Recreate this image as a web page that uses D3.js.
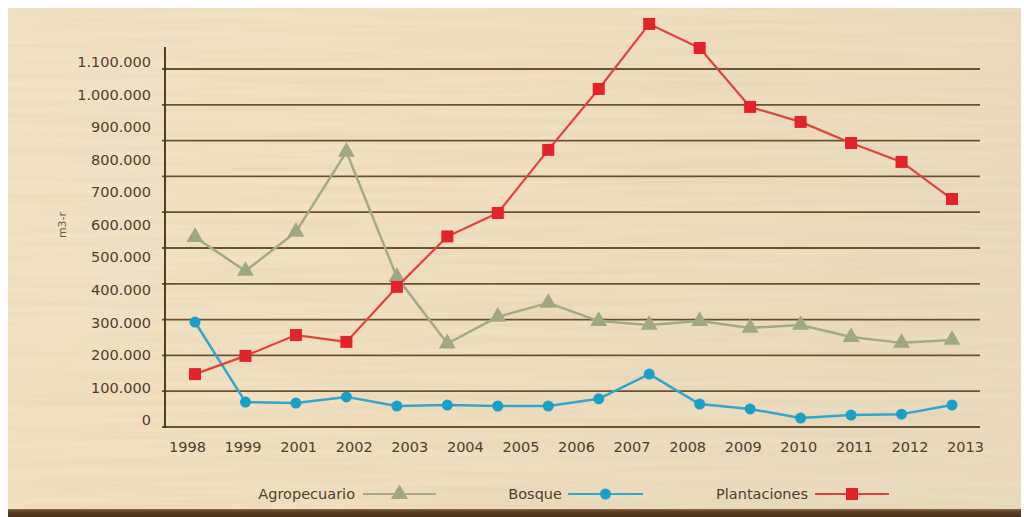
<!DOCTYPE html>
<html>
<head>
<meta charset="utf-8">
<script src="https://cdn.jsdelivr.net/npm/d3@7"></script>
<style>
  html, body { margin: 0; padding: 0; background: #ffffff; }
  svg { display: block; }
  text { font-family: "DejaVu Sans", "Noto Sans", sans-serif; }
</style>
</head>
<body>
<svg id="chart" width="1024" height="517"></svg>
<script>
// Yearly volumes (m3-r) by origin, 1998–2013
const periods = ["1998","1999","2000","2001","2002","2003","2004","2005",
                 "2006","2007","2008","2009","2010","2011","2012","2013"];

const agropecuario = [562000, 458000, 578000, 824000, 439000, 235000, 317000, 360000,
                      304000, 292000, 304000, 283000, 292000, 255000, 237000, 246000];

const bosque = [301000, 55000, 52000, 71000, 43000, 46000, 43000, 43000,
                65000, 141000, 49000, 34000, 6000, 15000, 18000, 46000];

const plantaciones = [141000, 197000, 261000, 240000, 409000, 564000, 636000, 830000,
                      1017000, 1217000, 1143000, 962000, 916000, 851000, 793000, 679000];

// Labels printed under the axis
const yearLabels = ["1998","1999","2001","2002","2003","2004","2005","2006",
                    "2007","2008","2009","2010","2011","2012","2013"];

const yTicks = [0, 100000, 200000, 300000, 400000, 500000, 600000,
                700000, 800000, 900000, 1000000, 1100000];

const gridSteps = d3.range(0, 11);

const seriesNames = ["Agropecuario", "Bosque", "Plantaciones"];

const svg = d3.select("#chart");
const W = 1024, H = 517;

// ---- wood background ----
const defs = svg.append("defs");
const grad = defs.append("linearGradient").attr("id", "woodBase")
  .attr("x1", "0").attr("y1", "0").attr("x2", "1").attr("y2", "0.3");
grad.append("stop").attr("offset", "0").attr("stop-color", "#f3e4c7");
grad.append("stop").attr("offset", "0.5").attr("stop-color", "#f1e0c0");
grad.append("stop").attr("offset", "1").attr("stop-color", "#eadcbf");

const grain = defs.append("filter").attr("id", "grain")
  .attr("x", 0).attr("y", 0).attr("width", "100%").attr("height", "100%");
grain.append("feTurbulence").attr("type", "fractalNoise")
  .attr("baseFrequency", "0.005 0.16").attr("numOctaves", 3).attr("seed", 7).attr("result", "n");
grain.append("feColorMatrix").attr("in", "n").attr("type", "matrix")
  .attr("values", "0 0 0 0 0.66  0 0 0 0 0.52  0 0 0 0 0.32  0.4 0 0 0 -0.12");

svg.append("rect").attr("x", 8).attr("y", 8).attr("width", W - 11).attr("height", H - 8)
  .attr("fill", "url(#woodBase)");
svg.append("rect").attr("x", 8).attr("y", 8).attr("width", W - 11).attr("height", H - 8)
  .attr("fill", "#000").attr("filter", "url(#grain)");

// dark edge along the bottom
const edge = defs.append("linearGradient").attr("id", "edge")
  .attr("x1", 0).attr("y1", 0).attr("x2", 0).attr("y2", 1);
edge.append("stop").attr("offset", 0).attr("stop-color", "#8a6a45");
edge.append("stop").attr("offset", 0.35).attr("stop-color", "#5b3d22");
edge.append("stop").attr("offset", 1).attr("stop-color", "#4a3019");
svg.append("rect").attr("x", 8).attr("y", 509).attr("width", W - 11).attr("height", 8)
  .attr("fill", "url(#edge)");

// ---- scales ----
const x = d3.scalePoint().domain(periods).range([195, 952]);
const y = d3.scaleLinear().domain([0, 1100000]).range([420, 62]);
const xLabel = d3.scalePoint().domain(yearLabels).range([187, 965]);
const grid = d3.scaleLinear().domain([0, 10]).range([427, 69]);

const fmt = d3.formatLocale({ decimal: ",", thousands: ".", grouping: [3], currency: ["", ""] }).format(",");

// ---- grid lines ----
const lineColor = "#5b4523";
svg.append("g").selectAll("line").data(gridSteps).join("line")
  .attr("x1", 162).attr("x2", 980)
  .attr("y1", d => grid(d)).attr("y2", d => grid(d))
  .attr("stroke", lineColor).attr("stroke-width", d => d === 0 ? 2 : 1.8)
  .attr("opacity", 0.9);

svg.append("line").attr("x1", 165).attr("x2", 165).attr("y1", 47).attr("y2", 428)
  .attr("stroke", "#3e2c14").attr("stroke-width", 1.8);

// ---- axes ----
const textColor = "#4f3f2d";
const yAxis = svg.append("g").attr("transform", "translate(151,0)")
  .call(d3.axisLeft(y).tickValues(yTicks).tickFormat(fmt).tickSize(0).tickPadding(0));
yAxis.select(".domain").remove();
yAxis.selectAll("text").attr("fill", textColor).attr("font-size", 14.5)
  .attr("font-family", "DejaVu Sans");

const xAxis = svg.append("g").attr("transform", "translate(0,442)")
  .call(d3.axisBottom(xLabel).tickSize(0).tickPadding(0));
xAxis.select(".domain").remove();
xAxis.selectAll("text").attr("fill", textColor).attr("font-size", 14.5)
  .attr("font-family", "DejaVu Sans");

svg.append("text").attr("transform", "translate(66,225) rotate(-90)")
  .attr("text-anchor", "middle").attr("fill", "#6d5d48").attr("font-size", 11)
  .text("m3-r");

// ---- series ----
const styles = {
  Agropecuario: { values: agropecuario, line: "#a3a98a", fill: "#9fa884", marker: "triangle", width: 2.5 },
  Bosque:       { values: bosque,       line: "#35a6cb", fill: "#1aa0c6", marker: "circle",   width: 2.5 },
  Plantaciones: { values: plantaciones, line: "#e2433d", fill: "#e3232a", marker: "square",   width: 2.2 }
};

const symbolFor = {
  triangle: d3.symbol().type(d3.symbolTriangle).size(125),
  circle:   d3.symbol().type(d3.symbolCircle).size(95),
  square:   d3.symbol().type(d3.symbolSquare).size(144)
};

const lineGen = d3.line().x(d => x(d.period)).y(d => y(d.value));

seriesNames.forEach(name => {
  const s = styles[name];
  const pts = periods.map((p, i) => ({ period: p, value: s.values[i] }));
  const g = svg.append("g");
  g.append("path").datum(pts).attr("d", lineGen)
    .attr("fill", "none").attr("stroke", s.line).attr("stroke-width", s.width)
    .attr("stroke-linejoin", "round");
  g.selectAll("path.mk").data(pts).join("path").attr("class", "mk")
    .attr("transform", d => `translate(${x(d.period)},${y(d.value)})`)
    .attr("d", symbolFor[s.marker]())
    .attr("fill", s.fill);
});

// ---- legend ----
const legendItems = [
  { name: "Agropecuario", tx: 355, lx1: 363, lx2: 436 },
  { name: "Bosque",       tx: 562, lx1: 568, lx2: 643 },
  { name: "Plantaciones", tx: 808, lx1: 815, lx2: 889 }
];
const legend = svg.append("g").attr("transform", "translate(0,494)");
legendItems.forEach(it => {
  const s = styles[it.name];
  legend.append("text").attr("x", it.tx).attr("y", 0).attr("dy", "0.35em")
    .attr("text-anchor", "end").attr("fill", textColor).attr("font-size", 14.5)
    .text(it.name);
  legend.append("line").attr("x1", it.lx1).attr("x2", it.lx2).attr("y1", 0).attr("y2", 0)
    .attr("stroke", s.line).attr("stroke-width", 1.8);
  legend.append("path").attr("transform", `translate(${(it.lx1 + it.lx2) / 2},0)`)
    .attr("d", symbolFor[s.marker]()).attr("fill", s.fill);
});
</script>
</body>
</html>
